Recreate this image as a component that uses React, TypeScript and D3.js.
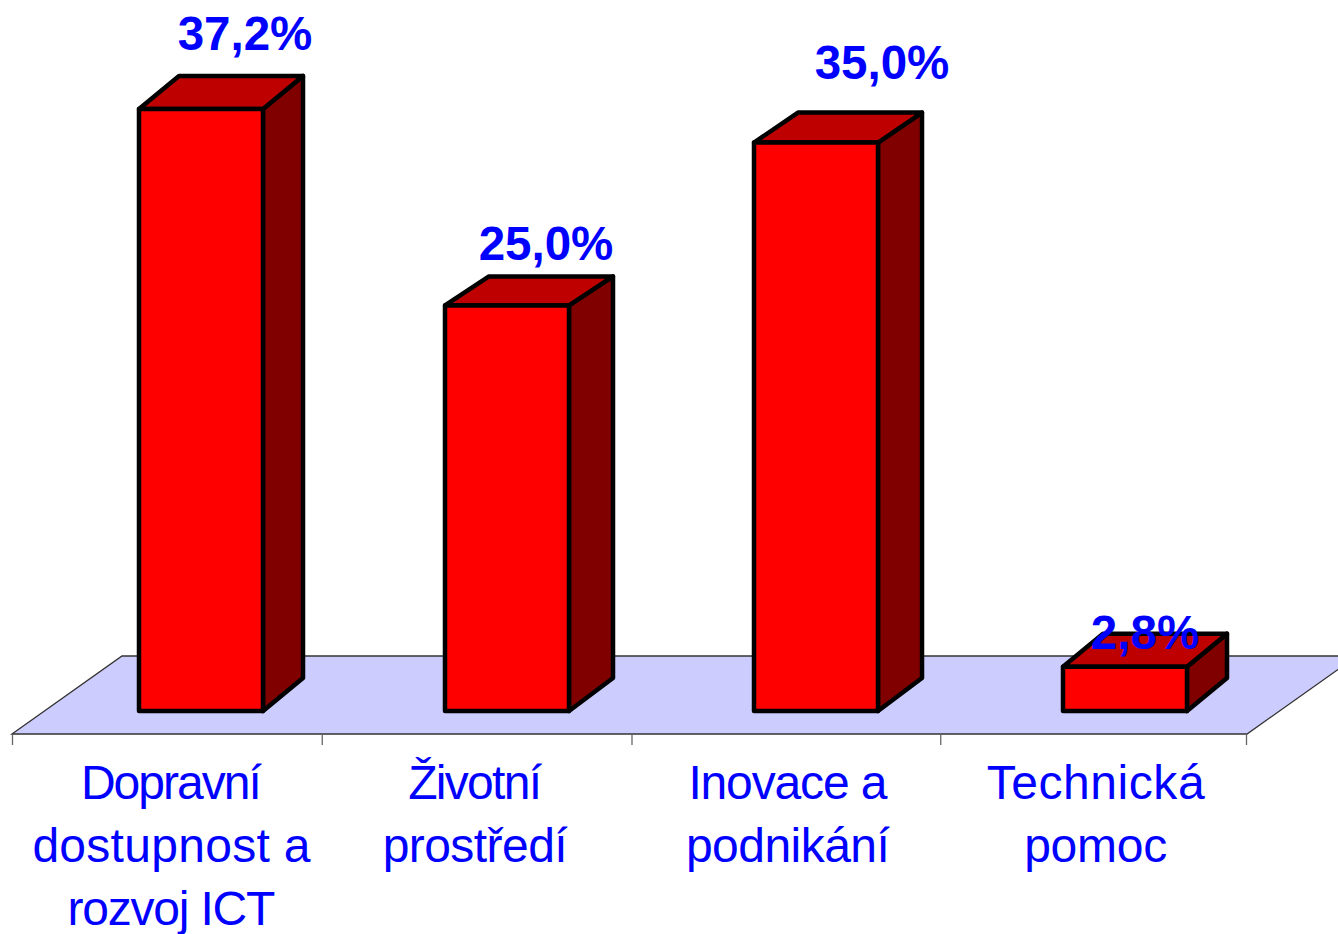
import React, { useEffect, useRef } from 'react';
import * as d3 from 'd3';

const categories = ['Dopravní dostupnost a rozvoj ICT', 'Životní prostředí', 'Inovace a podnikání', 'Technická pomoc'];
const categoryLines = [
  ['Dopravní', 'dostupnost a', 'rozvoj ICT'],
  ['Životní', 'prostředí'],
  ['Inovace a', 'podnikání'],
  ['Technická', 'pomoc'],
];
const values = [37.2, 25.0, 35.0, 2.8];
const valueLabels = ['37,2%', '25,0%', '35,0%', '2,8%'];

// the original is an old exported picture, nothing in it sits quite on a grid,
// so these small per-category corrections are layout only
const labelOffsetX = [106, 101, 128, 82];
const labelOffsetY = [59, 45, 64, 18];
const barNudgeX = [1, -1, 0, 1];
const barNudgeY = [0, -1, -2, 1];
const depthXs = [40, 44, 44, 40];
const depthYs = [33, 29, 30, 33];
const tickNudge = [0, 1, 2, 2, -1];
const catNudge = [2, -3, 1, 0];
const catLineWidths = [
  [181, 278, 208],
  [134, 185],
  [199, 204],
  [218, 143],
];

const App: React.FC = () => {
  const svgRef = useRef<SVGSVGElement | null>(null);

  useEffect(() => {
    if (!svgRef.current) return;

    const width = 1338;
    const height = 934;
    const font = '"Liberation Sans", Arial, sans-serif';

    const svg = d3.select(svgRef.current);
    svg.selectAll('*').remove();
    svg.attr('viewBox', `0 0 ${width} ${height}`);

    // --- Scales ---
    const baseY = 711;
    const y = d3.scaleLinear().domain([0, 37.2]).range([baseY, 109]);
    const axisX = d3.scaleBand<string>().domain(categories).range([13, 1248]);
    const barX = d3.scaleBand<string>().domain(categories).range([138, 1370]);
    const barWidth = 124;
    const floorDepthY = 33;
    const left = (c: string, i: number) => barX(c)! + barNudgeX[i];
    const top = (i: number) => y(values[i]) + barNudgeY[i];

    // --- Floor ---
    const floorFront = 734;
    const floorBack = 656;
    const floorDepth = 110;
    const x0 = 12;
    const x1 = 1247;
    const floorPath = `M${x0},${floorFront} L${x0 + floorDepth},${floorBack} L${x1 + floorDepth},${floorBack} L${x1},${floorFront} Z`;
    svg.append('path').attr('d', floorPath).attr('fill', '#ccccff');
    svg.append('path').attr('d', floorPath)
      .attr('fill', 'none').attr('stroke', '#333').attr('stroke-width', 1.3);

    // --- Ticks ---
    const tickPos = [...categories.map(c => axisX(c)!), axisX.range()[1]];
    svg.selectAll('.tick').data(tickPos).enter().append('line')
      .attr('x1', (d, i) => d - 0.5 + tickNudge[i]).attr('x2', (d, i) => d - 0.5 + tickNudge[i])
      .attr('y1', floorFront).attr('y2', floorFront + 11)
      .attr('stroke', '#666').attr('stroke-width', 1.3);

    // --- Bars ---
    const bars = svg.selectAll('.bar').data(categories).enter().append('g')
      .attr('stroke', '#000').attr('stroke-width', 4.5).attr('stroke-linejoin', 'round');

    bars.append('path') // side
      .attr('fill', '#800000')
      .attr('d', (c, i) => {
        const r = left(c, i) + barWidth;
        const t = top(i);
        return `M${r},${t} L${r + depthXs[i]},${t - depthYs[i]} L${r + depthXs[i]},${baseY - floorDepthY} L${r},${baseY} Z`;
      });
    bars.append('path') // top
      .attr('fill', '#bf0000')
      .attr('d', (c, i) => {
        const l = left(c, i);
        const t = top(i);
        return `M${l},${t} L${l + depthXs[i]},${t - depthYs[i]} L${l + barWidth + depthXs[i]},${t - depthYs[i]} L${l + barWidth},${t} Z`;
      });
    bars.append('rect') // front
      .attr('fill', '#ff0000')
      .attr('x', (c, i) => left(c, i))
      .attr('y', (_c, i) => top(i))
      .attr('width', barWidth)
      .attr('height', (_c, i) => baseY - top(i));

    // --- Value labels ---
    svg.selectAll('.value').data(categories).enter().append('text')
      .attr('x', (c, i) => left(c, i) + labelOffsetX[i])
      .attr('y', (_c, i) => top(i) - labelOffsetY[i])
      .attr('text-anchor', 'middle')
      .attr('font-family', font).attr('font-weight', 'bold').attr('font-size', 47.5)
      .attr('fill', '#0000ff')
      .text((_c, i) => valueLabels[i]);

    // --- Category labels ---
    const labels = svg.selectAll('.cat').data(categories).enter().append('text')
      .attr('text-anchor', 'middle')
      .attr('font-family', font).attr('font-size', 48)
      .attr('fill', '#0000ff');
    labels.each(function (c, i) {
      const cx = axisX(c)! + axisX.bandwidth() / 2 + 2 + catNudge[i];
      d3.select(this).selectAll('tspan').data(categoryLines[i]).enter().append('tspan')
        .attr('x', cx)
        .attr('y', (_d, j) => 798.5 + j * 63)
        .attr('textLength', (_d, j) => catLineWidths[i][j])
        .attr('lengthAdjust', 'spacing')
        .text(d => d);
    });
  }, []);

  return (
    <svg
      ref={svgRef}
      width={1338}
      height={934}
      style={{ position: 'absolute', left: 0, top: 0, background: '#fff', display: 'block' }}
    />
  );
};

export default App;
